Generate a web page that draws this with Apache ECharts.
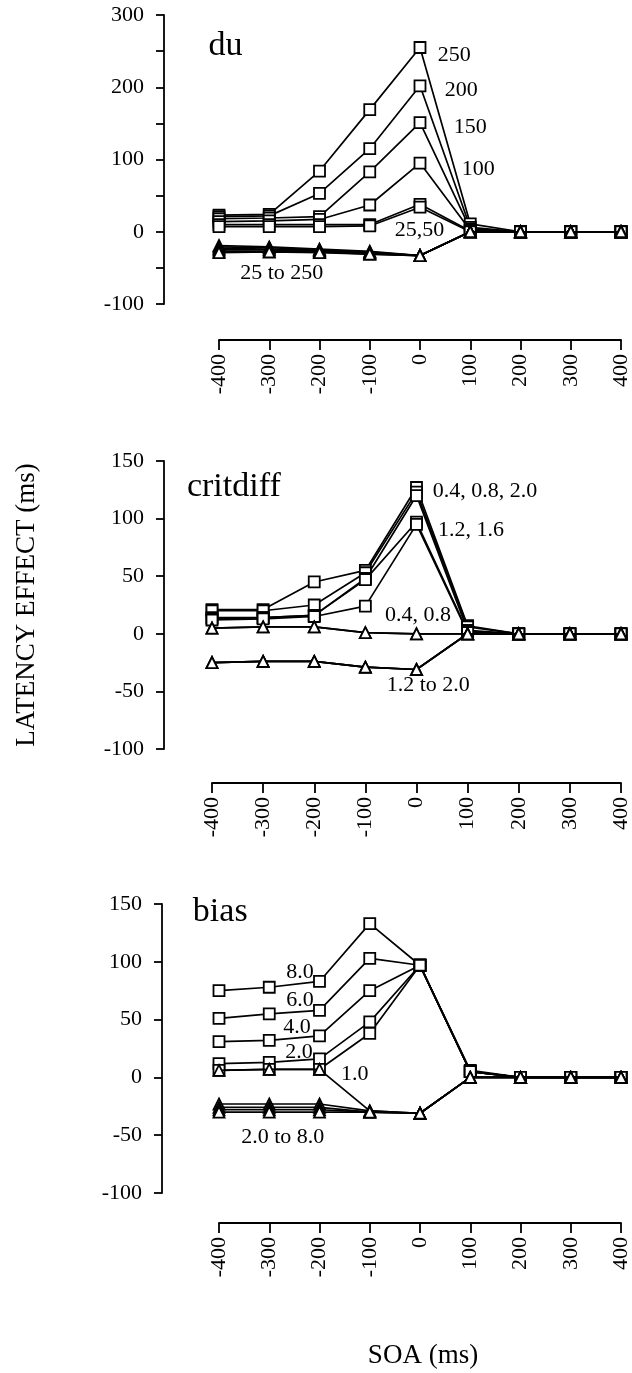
<!DOCTYPE html>
<html>
<head>
<meta charset="utf-8">
<script src="https://cdn.jsdelivr.net/npm/echarts@6/dist/echarts.min.js"></script>
<style>
  html, body { margin: 0; padding: 0; background: #fff; }
  #chart { width: 632px; height: 1373px; }
</style>
</head>
<body>
<div id="chart"></div>
<script>
// Stimulus onset asynchrony (ms), shared by all three panels
const SOA = [-400, -300, -200, -100, 0, 100, 200, 300, 400];

// Panel "du": squares and triangles for du = 25 ... 250
const duSquare250 = [23, 24, 84, 169, 255, 11, 0, 0, 0];
const duSquare200 = [21, 22, 53, 115, 202, 6, 0, 0, 0];
const duSquare150 = [18, 19, 21, 83, 151, 4, 0, 0, 0];
const duSquare100 = [14, 15, 17, 37, 95, 2, 0, 0, 0];
const duSquare50  = [10, 10, 10, 10, 38, 1, 0, 0, 0];
const duSquare25  = [7, 7, 7, 8, 34, 0, 0, 0, 0];
const duTri25  = [-19, -21, -24, -27, -33, 0, 0, 0, 0];
const duTri50  = [-21, -22, -25, -28, -33, 0, 0, 0, 0];
const duTri100 = [-23, -24, -26, -29, -33, 0, 0, 0, 0];
const duTri150 = [-25, -25, -27, -30, -33, 0, 0, 0, 0];
const duTri200 = [-27, -27, -28, -31, -33, 0, 0, 0, 0];
const duTri250 = [-29, -28, -29, -31, -33, 0, 0, 0, 0];

// Panel "critdiff": squares and triangles for critdiff = 0.4 ... 2.0
const cdSquare04 = [21, 21, 45, 55, 127, 7, 0, 0, 0];
const cdSquare08 = [20, 20, 25, 53, 123, 6, 0, 0, 0];
const cdSquare20 = [14, 14, 16, 48, 120, 3, 0, 0, 0];
const cdSquare12 = [13, 14, 16, 47, 97, 2, 0, 0, 0];
const cdSquare16 = [12, 13, 15, 24, 95, 1, 0, 0, 0];
const cdTri04 = [5, 6, 6, 1, 0, 0, 0, 0, 0];
const cdTri08 = [5, 6, 6, 1, 0, 0, 0, 0, 0];
const cdTri12 = [-25, -24, -24, -29, -31, 0, 0, 0, 0];
const cdTri16 = [-25, -24, -24, -29, -31, 0, 0, 0, 0];
const cdTri20 = [-25, -24, -24, -29, -31, 0, 0, 0, 0];

// Panel "bias": squares and triangles for bias = 1.0 ... 8.0
const biasSquare80 = [75, 78, 83, 133, 97, 6, 0, 0, 0];
const biasSquare60 = [51, 55, 58, 103, 97, 5, 0, 0, 0];
const biasSquare40 = [31, 32, 36, 75, 97, 5, 0, 0, 0];
const biasSquare20 = [12, 13, 16, 48, 97, 5, 0, 0, 0];
const biasSquare10 = [6, 7, 7, 38, 97, 5, 0, 0, 0];
const biasTri10 = [6, 7, 7, -29, -31, 0, 0, 0, 0];
const biasTri20 = [-23, -23, -23, -29, -31, 0, 0, 0, 0];
const biasTri40 = [-26, -26, -26, -30, -31, 0, 0, 0, 0];
const biasTri60 = [-28, -28, -28, -30, -31, 0, 0, 0, 0];
const biasTri80 = [-30, -30, -30, -30, -31, 0, 0, 0, 0];

// Axis ranges and text
const duTicks = { min: -100, max: 300, step: 50, labelStep: 100 };
const cdTicks = { min: -100, max: 150, step: 50, labelStep: 50 };
const biasTicks = { min: -100, max: 150, step: 50, labelStep: 50 };
const soaTicks = { min: -400, max: 400, step: 100 };
const panelTitles = ['du', 'critdiff', 'bias'];
const yTitle = 'LATENCY EFFECT (ms)';
const xTitle = 'SOA (ms)';

const duLabels = ['250', '200', '150', '100', '25,50', '25 to 250'];
const cdLabels = ['0.4, 0.8, 2.0', '1.2, 1.6', '0.4, 0.8', '1.2 to 2.0'];
const biasLabels = ['8.0', '6.0', '4.0', '2.0', '1.0', '2.0 to 8.0'];

// ---- layout (pixels) ----
const FONT = '"Liberation Serif", "DejaVu Serif", serif';
const TICK_FONT = 22, NOTE_FONT = 22, TITLE_FONT = 34, AXIS_TITLE_FONT = 27;
const panels = [
  { grid: { left: 219, top: 15, width: 403, height: 289 }, yOffset: 55, xOffset: 36, ticks: duTicks,
    squares: [duSquare250, duSquare200, duSquare150, duSquare100, duSquare50, duSquare25],
    triangles: [duTri25, duTri50, duTri100, duTri150, duTri200, duTri250] },
  { grid: { left: 212, top: 461, width: 409, height: 288 }, yOffset: 48, xOffset: 34, ticks: cdTicks,
    squares: [cdSquare04, cdSquare08, cdSquare20, cdSquare12, cdSquare16],
    triangles: [cdTri04, cdTri08, cdTri12, cdTri16, cdTri20] },
  { grid: { left: 219, top: 904, width: 403, height: 289 }, yOffset: 57, xOffset: 30, ticks: biasTicks,
    squares: [biasSquare80, biasSquare60, biasSquare40, biasSquare20, biasSquare10],
    triangles: [biasTri10, biasTri20, biasTri40, biasTri60, biasTri80] }
];

// annotation anchors in data units of each panel: [panel, text, x(ms), y, align, font size]
const annotations = [
  [0, panelTitles[0], -421, 257, 'left', TITLE_FONT],
  [0, duLabels[0], 68, 245, 'center', NOTE_FONT],
  [0, duLabels[1], 82, 196, 'center', NOTE_FONT],
  [0, duLabels[2], 100, 145, 'center', NOTE_FONT],
  [0, duLabels[3], 116, 87, 'center', NOTE_FONT],
  [0, duLabels[4], -1, 2, 'center', NOTE_FONT],
  [0, duLabels[5], -275, -57, 'center', NOTE_FONT],
  [1, panelTitles[1], -449, 127, 'left', TITLE_FONT],
  [1, cdLabels[0], 32, 124, 'left', NOTE_FONT],
  [1, cdLabels[1], 42, 90, 'left', NOTE_FONT],
  [1, cdLabels[2], 3, 16, 'center', NOTE_FONT],
  [1, cdLabels[3], 23, -45, 'center', NOTE_FONT],
  [2, panelTitles[2], -452, 143, 'left', TITLE_FONT],
  [2, biasLabels[0], -239, 91, 'center', NOTE_FONT],
  [2, biasLabels[1], -239, 67, 'center', NOTE_FONT],
  [2, biasLabels[2], -245, 43, 'center', NOTE_FONT],
  [2, biasLabels[3], -241, 22, 'center', NOTE_FONT],
  [2, biasLabels[4], -130, 3, 'center', NOTE_FONT],
  [2, biasLabels[5], -273, -52, 'center', NOTE_FONT]
];

const pairs = vals => SOA.map((s, i) => [s, vals[i]]);

const grids = [], xAxes = [], yAxes = [], series = [];
panels.forEach((p, i) => {
  grids.push(Object.assign({ containLabel: false }, p.grid));
  xAxes.push({
    type: 'value', gridIndex: i, min: soaTicks.min, max: soaTicks.max, interval: soaTicks.step,
    position: 'bottom', offset: p.xOffset,
    axisLine: { onZero: false, lineStyle: { color: '#000', width: 1.8 } },
    axisTick: { length: 10, lineStyle: { color: '#000', width: 1.8 } },
    axisLabel: { rotate: 90, margin: 14, color: '#000', fontFamily: FONT, fontSize: TICK_FONT },
    splitLine: { show: false }
  });
  yAxes.push({
    type: 'value', gridIndex: i, min: p.ticks.min, max: p.ticks.max, interval: p.ticks.step,
    position: 'left', offset: p.yOffset,
    axisLine: { show: true, onZero: false, lineStyle: { color: '#000', width: 1.8 } },
    axisTick: { show: true, length: 8, lineStyle: { color: '#000', width: 1.8 } },
    axisLabel: {
      margin: 20, color: '#000', fontFamily: FONT, fontSize: TICK_FONT,
      formatter: v => (v % p.ticks.labelStep === 0 ? String(v) : '')
    },
    splitLine: { show: false }
  });
  const common = {
    type: 'line', xAxisIndex: i, yAxisIndex: i, symbolSize: 11, clip: false,
    lineStyle: { color: '#000', width: 1.7 },
    itemStyle: { color: '#fff', borderColor: '#000', borderWidth: 1.8 },
    emphasis: { disabled: true }, animation: false
  };
  p.squares.forEach(v => series.push(Object.assign({}, common, { symbol: 'rect', data: pairs(v), z: 2 })));
  p.triangles.forEach(v => series.push(Object.assign({}, common, { symbol: 'triangle', data: pairs(v), z: 3 })));
});

const chart = echarts.init(document.getElementById('chart'), null, { renderer: 'canvas' });
chart.setOption({
  backgroundColor: '#fff',
  animation: false,
  grid: grids, xAxis: xAxes, yAxis: yAxes, series: series
});

// text placed at data positions of its panel
const graphic = annotations.map(([pi, text, x, y, align, size]) => {
  const [px, py] = chart.convertToPixel({ gridIndex: pi }, [x, y]);
  return {
    type: 'text', x: px, y: py, silent: true,
    style: { text: text, fill: '#000', font: `${size}px ${FONT}`, textAlign: align, textVerticalAlign: 'middle' }
  };
});
graphic.push({
  type: 'text', x: 27, y: 605, rotation: Math.PI / 2, silent: true,
  style: { text: yTitle, fill: '#000', font: `${AXIS_TITLE_FONT}px ${FONT}`, textAlign: 'center', textVerticalAlign: 'middle' }
});
graphic.push({
  type: 'text', x: 423, y: 1356, silent: true,
  style: { text: xTitle, fill: '#000', font: `${AXIS_TITLE_FONT}px ${FONT}`, textAlign: 'center', textVerticalAlign: 'middle' }
});
chart.setOption({ graphic: graphic });
</script>
</body>
</html>
